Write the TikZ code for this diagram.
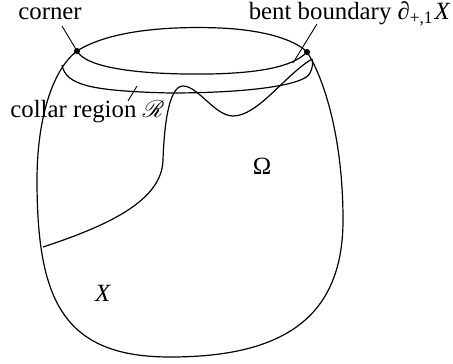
\documentclass[tikz,border=0pt]{standalone}
\usepackage{amsmath}
\usepackage{mathrsfs}
\usepackage{fontspec}
\setmainfont{Liberation Serif}
\begin{document}
\begin{tikzpicture}[x=0.5pt,y=-0.5pt,
  curve/.style={line width=0.6pt, line join=round},
  pointer/.style={line width=0.45pt},
  lbl/.style={inner sep=0pt, font=\fontsize{12.4}{14}\selectfont},
  dot/.style={circle, fill=black, inner sep=0pt, minimum size=3pt}]
\useasboundingbox (0,0) rectangle (453,363);
% corners
\coordinate (cl) at (77,51);
\coordinate (cr) at (307,52);
% top ellipse
\draw[curve] (cl) .. controls (110,30) and (170,26) .. (220,28)
   .. controls (265,30) and (295,40) .. (cr);
\draw[curve] (cl) .. controls (86,68) and (140,75) .. (210,74)
   .. controls (255,73) and (292,68) .. (cr);
% outer boundary
\draw[curve] (cl) .. controls (52,70) and (37,120) .. (37,180)
   .. controls (37,300) and (63,357) .. (170,357)
   .. controls (280,357) and (343,320) .. (343,220)
   .. controls (343,140) and (325,80) .. (cr);
% collar
\draw[curve] (62,65) .. controls (66,85) and (90,91) .. (170,93)
   .. controls (250,93) and (305,85) .. (310,73)
   .. controls (313,67) and (313,62) .. (312,59);
% Omega boundary
\draw[curve] (43,247) .. controls (110,225) and (162,200) .. (163,160)
   .. controls (164,130) and (168,86) .. (183,86)
   .. controls (198,86) and (215,116) .. (233,116)
   .. controls (258,116) and (285,75) .. (312,59);
% dots
\node[dot] (dl) at (cl) {};
\node[dot] (dr) at (cr) {};
% labels
\node[lbl, anchor=west] (corner) at (18,14) {corner};
\node[lbl, anchor=east] (bent) at (451,14) {bent boundary ∂\textsubscript{+,1}\kern0.5pt\textit{X}};
\node[lbl, anchor=west] (collar) at (10,112) {collar region $\mathscr{R}$};
\node[lbl] (omega) at (262,166) {Ω};
\node[lbl] (xlab) at (103,293) {\textit{X}};
% pointers
\coordinate (cp) at (62,26);
\coordinate (bp) at (317,24);
\coordinate (bq) at (293,63);
\coordinate (rp) at (128,101);
\coordinate (rq) at (137,86);
\draw[pointer] (cp) -- (dl.center);
\draw[pointer] (bp) -- (bq);
\draw[pointer] (rp) -- (rq);
\end{tikzpicture}
\end{document}
